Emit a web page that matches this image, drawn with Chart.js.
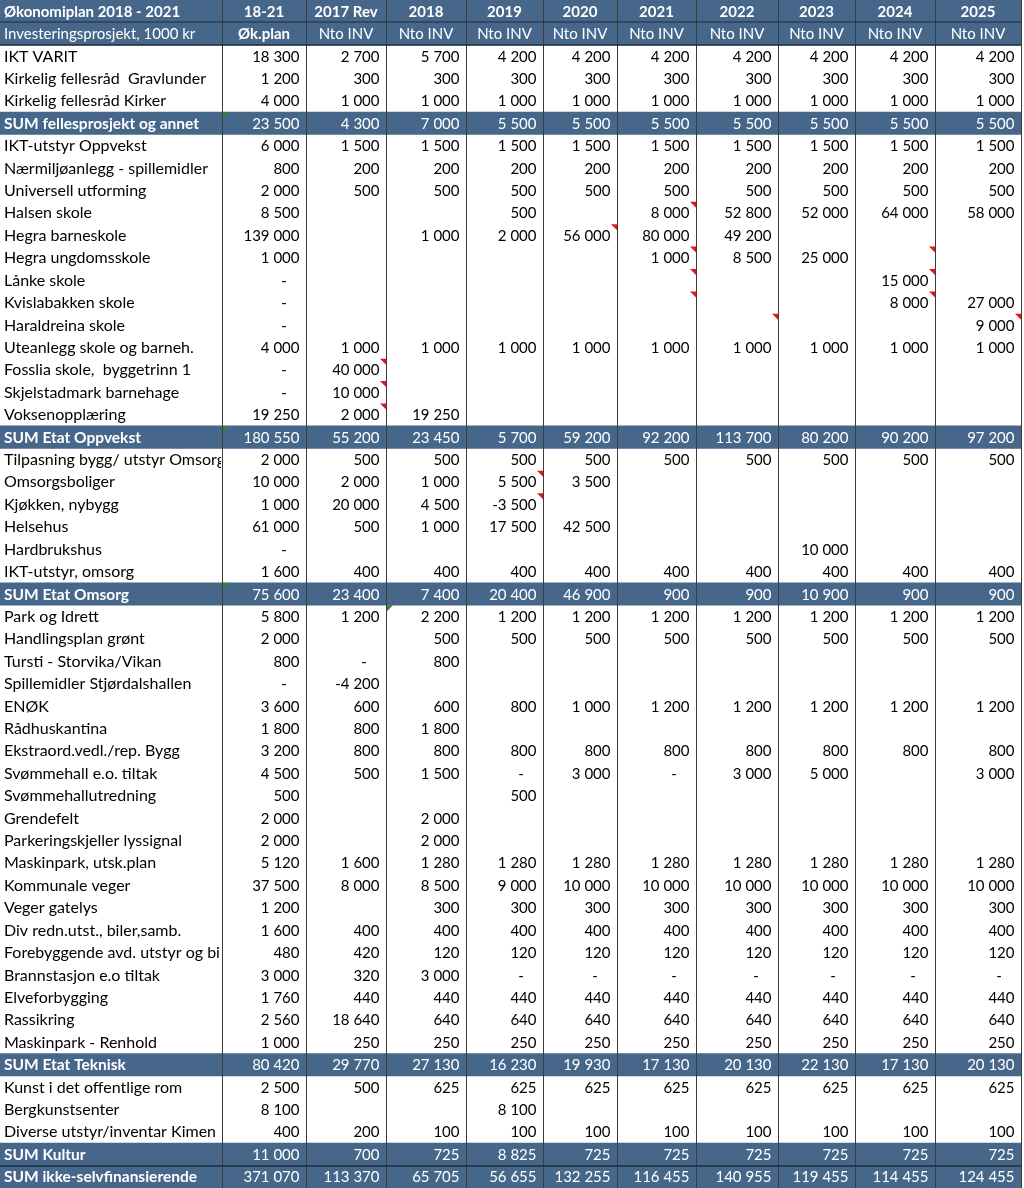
<!DOCTYPE html>
<html lang="no">
<head>
<meta charset="utf-8">
<title>Økonomiplan 2018 - 2021</title>
<script src="https://cdn.jsdelivr.net/npm/chart.js@4.4.1/dist/chart.umd.min.js"></script>
<style>
  html, body { margin: 0; padding: 0; background: #fff; }
  #wrap { width: 1024px; height: 1188px; }
</style>
</head>
<body>
<div id="wrap"><canvas id="tabell" width="1024" height="1188"></canvas></div>
<script>
const tittel = 'Økonomiplan 2018 - 2021';
const undertittel = 'Investeringsprosjekt, 1000 kr';
const kolonner = ['18-21', '2017 Rev', '2018', '2019', '2020', '2021', '2022', '2023', '2024', '2025'];
const kolonneTyper = ['Øk.plan', 'Nto INV', 'Nto INV', 'Nto INV', 'Nto INV', 'Nto INV', 'Nto INV', 'Nto INV', 'Nto INV', 'Nto INV'];

// null = tom celle, 0 = vises som "-"
const fellesNavn = ['IKT VARIT', 'Kirkelig fellesråd  Gravlunder', 'Kirkelig fellesråd Kirker'];
const fellesVerdier = [
  [18300, 2700, 5700, 4200, 4200, 4200, 4200, 4200, 4200, 4200],
  [1200, 300, 300, 300, 300, 300, 300, 300, 300, 300],
  [4000, 1000, 1000, 1000, 1000, 1000, 1000, 1000, 1000, 1000]
];
const fellesSum = [23500, 4300, 7000, 5500, 5500, 5500, 5500, 5500, 5500, 5500];

const oppvekstNavn = [
  'IKT-utstyr Oppvekst', 'Nærmiljøanlegg - spillemidler', 'Universell utforming', 'Halsen skole',
  'Hegra barneskole', 'Hegra ungdomsskole', 'Lånke skole', 'Kvislabakken skole', 'Haraldreina skole',
  'Uteanlegg skole og barneh.', 'Fosslia skole,  byggetrinn 1', 'Skjelstadmark barnehage', 'Voksenopplæring'
];
const oppvekstVerdier = [
  [6000, 1500, 1500, 1500, 1500, 1500, 1500, 1500, 1500, 1500],
  [800, 200, 200, 200, 200, 200, 200, 200, 200, 200],
  [2000, 500, 500, 500, 500, 500, 500, 500, 500, 500],
  [8500, null, null, 500, null, 8000, 52800, 52000, 64000, 58000],
  [139000, null, 1000, 2000, 56000, 80000, 49200, null, null, null],
  [1000, null, null, null, null, 1000, 8500, 25000, null, null],
  [0, null, null, null, null, null, null, null, 15000, null],
  [0, null, null, null, null, null, null, null, 8000, 27000],
  [0, null, null, null, null, null, null, null, null, 9000],
  [4000, 1000, 1000, 1000, 1000, 1000, 1000, 1000, 1000, 1000],
  [0, 40000, null, null, null, null, null, null, null, null],
  [0, 10000, null, null, null, null, null, null, null, null],
  [19250, 2000, 19250, null, null, null, null, null, null, null]
];
const oppvekstSum = [180550, 55200, 23450, 5700, 59200, 92200, 113700, 80200, 90200, 97200];

const omsorgNavn = [
  'Tilpasning bygg/ utstyr Omsorg', 'Omsorgsboliger', 'Kjøkken, nybygg', 'Helsehus', 'Hardbrukshus', 'IKT-utstyr, omsorg'
];
const omsorgVerdier = [
  [2000, 500, 500, 500, 500, 500, 500, 500, 500, 500],
  [10000, 2000, 1000, 5500, 3500, null, null, null, null, null],
  [1000, 20000, 4500, -3500, null, null, null, null, null, null],
  [61000, 500, 1000, 17500, 42500, null, null, null, null, null],
  [0, null, null, null, null, null, null, 10000, null, null],
  [1600, 400, 400, 400, 400, 400, 400, 400, 400, 400]
];
const omsorgSum = [75600, 23400, 7400, 20400, 46900, 900, 900, 10900, 900, 900];

const tekniskNavn = [
  'Park og Idrett', 'Handlingsplan grønt', 'Tursti - Storvika/Vikan', 'Spillemidler Stjørdalshallen', 'ENØK',
  'Rådhuskantina', 'Ekstraord.vedl./rep. Bygg', 'Svømmehall e.o. tiltak', 'Svømmehallutredning', 'Grendefelt',
  'Parkeringskjeller lyssignal', 'Maskinpark, utsk.plan', 'Kommunale veger', 'Veger gatelys',
  'Div redn.utst., biler,samb.', 'Forebyggende avd. utstyr og bil', 'Brannstasjon e.o tiltak', 'Elveforbygging',
  'Rassikring', 'Maskinpark - Renhold'
];
const tekniskVerdier = [
  [5800, 1200, 2200, 1200, 1200, 1200, 1200, 1200, 1200, 1200],
  [2000, null, 500, 500, 500, 500, 500, 500, 500, 500],
  [800, 0, 800, null, null, null, null, null, null, null],
  [0, -4200, null, null, null, null, null, null, null, null],
  [3600, 600, 600, 800, 1000, 1200, 1200, 1200, 1200, 1200],
  [1800, 800, 1800, null, null, null, null, null, null, null],
  [3200, 800, 800, 800, 800, 800, 800, 800, 800, 800],
  [4500, 500, 1500, 0, 3000, 0, 3000, 5000, null, 3000],
  [500, null, null, 500, null, null, null, null, null, null],
  [2000, null, 2000, null, null, null, null, null, null, null],
  [2000, null, 2000, null, null, null, null, null, null, null],
  [5120, 1600, 1280, 1280, 1280, 1280, 1280, 1280, 1280, 1280],
  [37500, 8000, 8500, 9000, 10000, 10000, 10000, 10000, 10000, 10000],
  [1200, null, 300, 300, 300, 300, 300, 300, 300, 300],
  [1600, 400, 400, 400, 400, 400, 400, 400, 400, 400],
  [480, 420, 120, 120, 120, 120, 120, 120, 120, 120],
  [3000, 320, 3000, 0, 0, 0, 0, 0, 0, 0],
  [1760, 440, 440, 440, 440, 440, 440, 440, 440, 440],
  [2560, 18640, 640, 640, 640, 640, 640, 640, 640, 640],
  [1000, 250, 250, 250, 250, 250, 250, 250, 250, 250]
];
const tekniskSum = [80420, 29770, 27130, 16230, 19930, 17130, 20130, 22130, 17130, 20130];

const kulturNavn = ['Kunst i det offentlige rom', 'Bergkunstsenter', 'Diverse utstyr/inventar Kimen'];
const kulturVerdier = [
  [2500, 500, 625, 625, 625, 625, 625, 625, 625, 625],
  [8100, null, null, 8100, null, null, null, null, null, null],
  [400, 200, 100, 100, 100, 100, 100, 100, 100, 100]
];
const kulturSum = [11000, 700, 725, 8825, 725, 725, 725, 725, 725, 725];

const totalSum = [371070, 113370, 65705, 56655, 132255, 116455, 140955, 119455, 114455, 124455];

// Merknader i cellene: [rad, kolonne]
const kommentarer = [
  [9, 6], [10, 5], [11, 6], [12, 6], [13, 6], [14, 7], [11, 9], [12, 9], [13, 9], [14, 10],
  [16, 2], [17, 2], [18, 2], [21, 4], [22, 4]
];
const feilmerker = [[5, 1], [19, 1], [26, 1], [27, 3]];

// Layout
const KANTER = [0, 222, 306, 386, 466, 543, 617, 696, 778, 855, 935, 1021];
const BAND = '#46678a';
const FONT = 'Lato, "Open Sans", sans-serif';
const STR = 15;        // tall og topptekst
const STR_NAVN = 16;   // vanlige radnavn
const STR_SUM = 15.5;  // fete sumnavn

function seksjon(navn, verdier, sumNavn, sum) {
  const rader = navn.map((n, i) => ({ type: 'rad', navn: n, verdier: verdier[i] }));
  rader.push({ type: 'sum', navn: sumNavn, verdier: sum });
  return rader;
}

const rader = [
  { type: 'topp', navn: tittel, verdier: kolonner },
  { type: 'topp2', navn: undertittel, verdier: kolonneTyper },
  ...seksjon(fellesNavn, fellesVerdier, 'SUM fellesprosjekt og annet', fellesSum),
  ...seksjon(oppvekstNavn, oppvekstVerdier, 'SUM Etat Oppvekst', oppvekstSum),
  ...seksjon(omsorgNavn, omsorgVerdier, 'SUM Etat Omsorg', omsorgSum),
  ...seksjon(tekniskNavn, tekniskVerdier, 'SUM Etat Teknisk', tekniskSum),
  ...seksjon(kulturNavn, kulturVerdier, 'SUM Kultur', kulturSum),
  { type: 'sum', navn: 'SUM ikke-selvfinansierende', verdier: totalSum }
];

function formatTall(v) {
  const s = String(Math.abs(v)).replace(/\B(?=(\d{3})+(?!\d))/g, ' ');
  return v < 0 ? '-' + s : s;
}

function navneFont(type) {
  if (type === 'topp') return 'bold ' + STR + 'px ' + FONT;
  if (type === 'topp2') return STR + 'px ' + FONT;
  if (type === 'sum') return 'bold ' + STR_SUM + 'px ' + FONT;
  return STR_NAVN + 'px ' + FONT;
}

const tabellPlugin = {
  id: 'tabell',
  afterDatasetsDraw(chart) {
    const ctx = chart.ctx;
    const xs = chart.scales.x;
    const ys = chart.scales.y;
    const h = ys.getPixelForValue(1) - ys.getPixelForValue(0);
    const topp = i => ys.getPixelForValue(i) - h / 2;
    const px = v => xs.getPixelForValue(v);

    ctx.save();

    // loddrette linjer
    ctx.strokeStyle = '#3c3c3c';
    ctx.lineWidth = 1;
    KANTER.slice(1).forEach(k => {
      const x = Math.round(px(k)) + 0.5;
      ctx.beginPath();
      ctx.moveTo(x, 0);
      ctx.lineTo(x, chart.height);
      ctx.stroke();
    });

    // vannrette linjer i toppen og mellom de to siste sumradene
    ctx.strokeStyle = '#1d2c3b';
    [[1, 1], [2, 1.5], [rader.length - 1, 1.5]].forEach(([i, w]) => {
      ctx.lineWidth = w;
      const y = Math.round(topp(i));
      ctx.beginPath();
      ctx.moveTo(0, y);
      ctx.lineTo(px(KANTER[KANTER.length - 1]), y);
      ctx.stroke();
    });

    ctx.textBaseline = 'alphabetic';
    rader.forEach((rad, i) => {
      const base = ys.getPixelForValue(i) + 5.5;
      const mork = rad.type !== 'rad';
      ctx.fillStyle = mork ? '#ffffff' : '#000000';

      // navnekolonne
      ctx.save();
      ctx.beginPath();
      ctx.rect(0, topp(i), px(KANTER[1]) - 1, h);
      ctx.clip();
      ctx.textAlign = 'left';
      ctx.font = navneFont(rad.type);
      ctx.fillText(rad.navn, px(4), base);
      ctx.restore();

      rad.verdier.forEach((v, c) => {
        const venstre = px(KANTER[c + 1]);
        const hoyre = px(KANTER[c + 2]);
        if (rad.type === 'topp' || rad.type === 'topp2') {
          const fet = rad.type === 'topp' || c === 0;
          ctx.font = (fet ? 'bold ' : '') + STR + 'px ' + FONT;
          ctx.textAlign = 'center';
          ctx.fillText(v, (venstre + hoyre) / 2, base);
          return;
        }
        if (v === null) return;
        ctx.font = STR + 'px ' + FONT;
        if (v === 0) {
          ctx.textAlign = 'center';
          ctx.fillText('-', hoyre - 22, base);
        } else {
          ctx.textAlign = 'right';
          ctx.fillText(formatTall(v), hoyre - 6.5, base);
        }
      });
    });

    // merknadstrekanter
    ctx.fillStyle = '#e3161b';
    kommentarer.forEach(([r, c]) => {
      const x = px(KANTER[c + 1]);
      const y = topp(r);
      ctx.beginPath();
      ctx.moveTo(x - 6, y);
      ctx.lineTo(x, y);
      ctx.lineTo(x, y + 6);
      ctx.closePath();
      ctx.fill();
    });
    ctx.fillStyle = '#2e8b2e';
    feilmerker.forEach(([r, c]) => {
      const x = px(KANTER[c]) + 1;
      const y = topp(r);
      ctx.beginPath();
      ctx.moveTo(x, y);
      ctx.lineTo(x + 6, y);
      ctx.lineTo(x, y + 6);
      ctx.closePath();
      ctx.fill();
    });

    ctx.restore();
  }
};

new Chart(document.getElementById('tabell'), {
  type: 'bar',
  data: {
    labels: rader.map((r, i) => String(i)),
    datasets: [{
      label: 'bånd',
      data: rader.map(r => (r.type === 'rad' ? null : [KANTER[0], KANTER[KANTER.length - 1]])),
      backgroundColor: BAND,
      borderWidth: 0,
      barPercentage: 1,
      categoryPercentage: 1
    }]
  },
  options: {
    indexAxis: 'y',
    responsive: false,
    maintainAspectRatio: false,
    devicePixelRatio: 1,
    animation: false,
    layout: { padding: 0 },
    plugins: {
      legend: { display: false },
      tooltip: { enabled: false }
    },
    scales: {
      x: { type: 'linear', min: 0, max: 1024, display: false },
      y: { type: 'category', offset: true, display: false, grid: { display: false } }
    }
  },
  plugins: [tabellPlugin]
});
</script>
</body>
</html>
